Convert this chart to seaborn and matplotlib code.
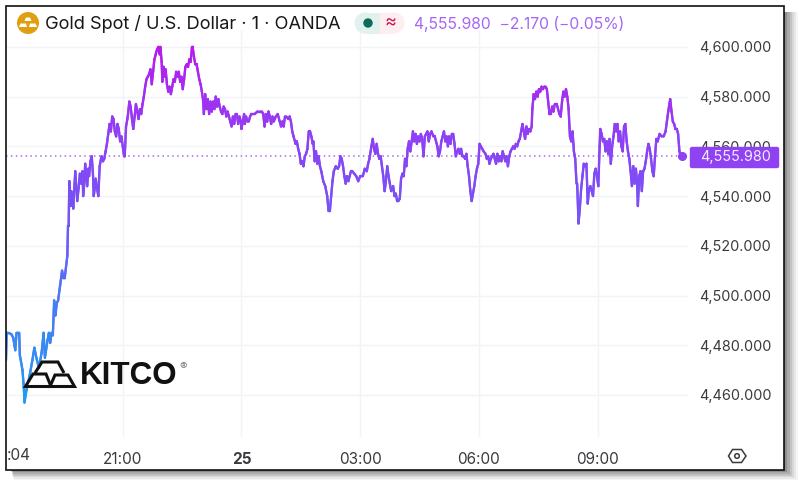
import numpy as np
import seaborn as sns
import matplotlib
matplotlib.use("Agg")
import matplotlib.pyplot as plt
from matplotlib.collections import LineCollection
from matplotlib.colors import LinearSegmentedColormap
from matplotlib.patches import Rectangle, Circle, Polygon, FancyBboxPatch
from matplotlib.transforms import Affine2D

# (minutes relative to midnight on the 25th, price)
rally = [
    (-357,4474),(-356,4485),(-354,4485),(-349,4484.5),(-346,4483),(-343,4478),(-341,4485),(-337,4485),(-336,4476),
    (-332,4470),(-330,4463),(-329,4457),(-326,4462),(-321,4468),(-317,4474),(-314,4479),(-311,4475),(-307,4471),
    (-303,4477),(-300,4485),(-298,4475),(-294,4482),(-292,4485),(-290,4481),(-288,4485),(-286,4484),(-284,4498),
    (-282,4492),(-280,4497),(-278,4498),(-275,4504),(-272,4510),(-270,4507),(-268,4507),(-264,4516),(-263,4528),
    (-262,4528),(-261,4546),(-259,4536),(-258,4542),(-256,4538),(-255,4535),(-253,4545),(-252,4550),(-250,4542),
    (-249,4538),(-247,4543),(-245,4549),(-243,4545),(-241,4550),(-240,4540),(-238,4546),(-237,4553),(-235,4549),
    (-234,4544),(-232,4551),(-231,4548),(-229,4554),(-227,4556),(-225,4548),(-224,4540),(-222,4544),(-221,4547),
    (-219,4543),(-217,4540),(-215,4552),(-213,4555),(-212,4556),(-210,4554),(-208,4555),(-206,4558),(-204,4561),
    (-202,4565),(-200,4569),(-198,4566),(-196,4572),(-194,4571),(-192,4566),(-190,4564),(-188,4569),(-186,4567),
    (-184,4562),(-182,4564),(-180,4560),(-178,4556),(-177,4556),(-175,4568),(-173,4571),
]
peak = [
    (-172,4573),(-170,4578),(-168,4576),(-166,4571),(-164,4567),(-162,4572),(-160,4577),(-158,4574),(-156,4571),
    (-154,4575),(-152,4573),(-150,4577),(-148,4580),(-146,4584),(-144,4587),(-142,4588),(-140,4589),(-138,4591),
    (-136,4585),(-134,4590),(-132,4595),(-130,4597),(-128,4599),(-126,4600),(-124,4597),(-123,4600),(-121,4594),
    (-120,4586),(-118,4592),(-116,4588),(-115,4591),(-113,4585),(-111,4582),(-109,4584),(-107,4581),(-105,4584),
    (-103,4587),(-101,4586),(-99,4590),(-97,4588),(-95,4590),(-93,4586),(-91,4588),(-89,4583),(-87,4587),(-85,4592),
    (-83,4593),(-81,4592),(-79,4595),(-77,4594),(-75,4600),(-74,4600),(-72,4596),(-70,4593),(-68,4593),(-66,4590),
    (-64,4587),(-62,4585),(-60,4582),(-58,4578),(-57,4573),
]
plateau = [
    (-55,4581),(-53,4575),(-51,4579),(-49,4573),(-47,4578),(-45,4574),(-43,4578),(-41,4575),(-39,4580),(-37,4576),
    (-35,4579),(-33,4576),(-31,4574),(-29,4573),(-27,4576),(-25,4575),(-23,4572),(-21,4574),(-19,4572),(-17,4570),
    (-15,4568),(-13,4572),(-11,4569),(-9,4573),(-7,4573),(-5,4569),(-3,4572),(-1,4570),(0,4567),(2,4570),(4,4573),
    (5,4569),(7,4572),(9,4570),(11,4570),(13,4572),(15,4573),(17,4573),(20,4573),(24,4574),(28,4574),(31,4574),
    (33,4573),(35,4568),(37,4573),(39,4570),(41,4574),(43,4572),(45,4569),(47,4572),(49,4570),(52,4572),(55,4573),
    (58,4570),(60,4568),(62,4570),(64,4568),(66,4572),(68,4572),(71,4571),(73,4572),(75,4570),(77,4566),(79,4564),
    (82,4561),(84,4562),(86,4559),(88,4557),
]
slide = [
    (90,4553),(92,4554),(94,4552),(96,4556),(98,4557),(100,4559),(102,4566),(104,4566),(106,4564),(108,4561),(109,4562),
    (111,4554),(113,4558),(115,4553),(117,4556),(119,4552),(121,4550),(124,4546),(127,4544),(130,4540),(132,4534),
    (134,4534),(136,4540),(138,4546),(140,4550),(143,4552),(146,4551),(148,4552),(150,4556),(152,4555),(154,4552),
    (156,4548),(158,4545),(160,4548),(162,4546),(164,4548),(166,4550),(168,4550),(171,4549),(174,4548),(177,4546),
    (180,4548),(184,4548),(187,4551),(190,4550),(192,4553),(194,4555),(197,4560),(199,4563),(201,4559),(203,4557),
    (205,4561),(207,4557),(209,4555),(211,4556),(213,4552),(215,4548),(217,4542),(219,4546),(221,4552),(223,4548),
    (225,4545),(227,4542),(230,4544),(232,4540),(234,4541),(236,4538),(238,4538),
]
midday = [
    (240,4539),(242,4547),(244,4549),(246,4548),(248,4555),(250,4552),(252,4559),(254,4562),(256,4558),(258,4562),
    (260,4566),(262,4562),(264,4565),(266,4561),(268,4564),(270,4562),(272,4565),(274,4563),(276,4556),(278,4564),
    (280,4565),(282,4566),(284,4562),(286,4565),(288,4566),(291,4564),(293,4564),(295,4562),(297,4560),(299,4556),
    (301,4558),(303,4562),(305,4564),(307,4566),(309,4562),(311,4564),(313,4560),(315,4564),(317,4561),(319,4565),
    (321,4565),(323,4561),(325,4556),(327,4558),(329,4559),(331,4557),(333,4559),(335,4556),(337,4556),(339,4555),
    (341,4557),(343,4552),(345,4548),(347,4542),(349,4538),(351,4541),(353,4544),(355,4548),(357,4551),(359,4553),
    (361,4561),(363,4560),(365,4559),(367,4558),(370,4557),(372,4555),(374,4556),(376,4553),(378,4555),(380,4556),
    (382,4557),(384,4555),(386,4553),(388,4557),(390,4554),(392,4556),(394,4554),(396,4558),(398,4556),(400,4554),
    (402,4556),(404,4552),(406,4556),(408,4558),(410,4559),(412,4560),(414,4559),(416,4561),(418,4560),(420,4562),
    (422,4563),(424,4566),(426,4569),(428,4566),(430,4563),(432,4568),(434,4565),(436,4567),(438,4566),(440,4568),
]
late = [
    (441,4575),(443,4581),(445,4579),(447,4582),(449,4580),(451,4583),(453,4582),(455,4584),(457,4583),(459,4584),
    (461,4584),(463,4583),(465,4578),(467,4573),(469,4573),(471,4576),(473,4574),(475,4577),(478,4577),(480,4575),
    (482,4573),(484,4572),(486,4578),(488,4582),(490,4580),(492,4583),(494,4580),(496,4575),(498,4564),(500,4562),
    (502,4566),(504,4558),(506,4555),(508,4545),(509,4545),(511,4529),(513,4535),(515,4543),(517,4548),(519,4553),
    (521,4552),(523,4553),(525,4537),(527,4543),(529,4544),(531,4542),(533,4540),(535,4549),(537,4551),(539,4548),
    (541,4544),(543,4560),(544,4567),(546,4565),(548,4562),(550,4563),(552,4558),(554,4562),(556,4557),(558,4563),
    (560,4553),(562,4560),(564,4564),(566,4569),(568,4566),(570,4569),(572,4562),(574,4566),(576,4560),(578,4558),
    (580,4568),(582,4569),(584,4562),(586,4558),(588,4555),(590,4550),(592,4544),(594,4552),(596,4545),(598,4551),
    (600,4545),(601,4536),(603,4548),(605,4550),(607,4542),(609,4550),(611,4551),(613,4554),(615,4558),(617,4561),
    (619,4559),(621,4555),(623,4550),(625,4548),(627,4556),(629,4563),(631,4562),(634,4565),(637,4564),(640,4564),
    (643,4566),(645,4570),(647,4574),(650,4579),(652,4574),(654,4570),(656,4569),(658,4567),(660,4567),(662,4565),
    (664,4558),(666,4556),(668,4555.98),
]
last_price = 4555.98
y_ticks = [4460, 4480, 4500, 4520, 4540, 4560, 4580, 4600]
y_labels = ["4,460.000", "4,480.000", "4,500.000", "4,520.000", "4,540.000", "4,560.000", "4,580.000", "4,600.000"]
x_ticks = [-180, 0, 180, 360, 540]
x_labels = ["21:00", "25", "03:00", "06:00", "09:00"]
title = "Gold Spot / U.S. Dollar · 1 · OANDA"
quote = "4,555.980  \u22122.170 (\u22120.05%)"

sns.set_theme(style="white")
plt.rcParams["font.family"] = ["Inter", "DejaVu Sans"]

W, H = 800, 488
fig = plt.figure(figsize=(W / 100, H / 100), dpi=100, facecolor="white")
T = Affine2D().scale(1 / W, -1 / H).translate(0, 1) + fig.transFigure

L, R, TOP, BOT = 6, 688, 30, 437
ax = fig.add_axes([L / W, 1 - BOT / H, (R - L) / W, (BOT - TOP) / H], facecolor="none")

series = np.array(rally + peak + plateau + slide + midday + late, float)
t, p = series[:, 0], series[:, 1]
sns.lineplot(x=t, y=p, ax=ax, estimator=None, sort=False, color="#8a45f5", lw=1.5, zorder=3)

cmap = LinearSegmentedColormap.from_list("grad", ["#1c9ff0", "#3f82f2", "#6f58f6", "#8f40f4", "#bc18ee"])
segs = np.stack([series[:-1], series[1:]], axis=1)
lc = LineCollection(segs, cmap=cmap, norm=plt.Normalize(4457, 4600), linewidths=1.7, capstyle="round", zorder=4)
lc.set_array((p[:-1] + p[1:]) / 2)
ax.add_collection(lc)

ax.set_xlim(-357, 677)
ax.set_ylim(4443.1, 4606.8)
ax.axhline(last_price, color="#a56cf3", lw=1.1, ls=(0, (1, 2.2)), zorder=2)
ax.plot([t[-1]], [last_price], "o", ms=5.5, color="#8e42f2", zorder=5)
ax.grid(True, color="#f2f3f6", lw=1)
ax.set_axisbelow(True)
ax.set_xlabel(""); ax.set_ylabel("")
for s in ax.spines.values():
    s.set_visible(False)

ax.yaxis.tick_right()
ax.set_yticks(y_ticks, y_labels)
ax.set_xticks(x_ticks, x_labels)
ax.tick_params(axis="y", length=0, pad=8, labelsize=10.4, labelcolor="#3a3a3f")
ax.tick_params(axis="x", length=0, pad=11, labelsize=11, labelcolor="#3a3a3f")
for lab in ax.get_xticklabels():
    if lab.get_text() == "25":
        lab.set_fontweight("bold")
fig.text(6.5, 456, ":04", transform=T, ha="left", va="center", fontsize=11, color="#3a3a3f")

# last price tag
fig.add_artist(FancyBboxPatch((690.5, 147.5), 88, 20, boxstyle="round,pad=0,rounding_size=1.5", transform=T,
                              fc="#8e42f2", ec="#8e42f2", lw=1, zorder=5))
fig.text(735.5, 156.5, "4,555.980", transform=T, ha="center", va="center", fontsize=10.4, color="#f3ecff", zorder=6)

# header
fig.add_artist(Circle((28, 23), 11, transform=T, fc="#e09f10", ec="none", zorder=3))
for xy in ([(24.5, 21), (26, 17.5), (30, 17.5), (31.5, 21)],
           [(19, 27), (20.5, 23.5), (26, 23.5), (27, 27)],
           [(29, 27), (30, 23.5), (35.5, 23.5), (37, 27)]):
    fig.add_artist(Polygon(xy, transform=T, fc="white", ec="none", zorder=4))
fig.text(45, 24, title, transform=T, ha="left", va="center", fontsize=13.1, color="#18181b", zorder=4)
fig.add_artist(Rectangle((365, 12.5), 15, 21, transform=T, fc="#e2f1ed", ec="none", zorder=3))
fig.add_artist(Circle((365, 23), 10.5, transform=T, fc="#e2f1ed", ec="none", zorder=3))
fig.add_artist(Rectangle((380, 12.5), 14, 21, transform=T, fc="#fdeef2", ec="none", zorder=3))
fig.add_artist(Circle((394, 23), 10.5, transform=T, fc="#fdeef2", ec="none", zorder=3))
fig.add_artist(Circle((368, 23), 4.7, transform=T, fc="#0d6b5c", ec="none", zorder=4))
fig.text(390.5, 23, "\u2248", transform=T, ha="center", va="center", fontsize=13, color="#c8184f", zorder=4)
fig.text(414, 24, quote, transform=T, ha="left", va="center", fontsize=11.3, color="#a566f5", zorder=4)

# KITCO logo
fig.add_artist(Polygon([(35, 373), (42, 362), (58, 362), (64, 373)], closed=False, transform=T,
                       fc="none", ec="#111111", lw=2.2, zorder=7))
for xy in ([(25.5, 386.5), (33, 374), (46, 374), (51, 386.5)],
           [(50, 386.5), (55, 375), (68, 375), (74.5, 386.5)]):
    fig.add_artist(Polygon(xy, closed=True, transform=T, fc="#ffffff", ec="#111111", lw=2.2, zorder=7))
fig.text(79.5, 376.5, "KITCO", transform=T, ha="left", va="center", fontsize=22.6, fontweight="bold",
         family="Liberation Sans", color="#111111", zorder=7)
fig.text(183, 367, "\u00ae", transform=T, ha="center", va="center", fontsize=8, color="#777777", zorder=7)

# settings hexagon
hx = [(728.5, 456), (732.5, 449.5), (741.5, 449.5), (746, 456), (741.5, 462.5), (732.5, 462.5)]
fig.add_artist(Polygon(hx, closed=True, transform=T, fc="none", ec="#3a3a3f", lw=1.1, zorder=5))
fig.add_artist(Circle((737, 456), 2.3, transform=T, fc="none", ec="#3a3a3f", lw=1.1, zorder=5))

# screenshot frame and its drop shadow
for off, a in zip(range(13, 0, -2), [.04, .05, .07, .09, .12, .16, .25]):
    fig.add_artist(Rectangle((10 + off * .3, 12), 774 + off * .8, 458 + off * .8, transform=T, fc="black",
                             ec="none", alpha=a, zorder=-2))
fig.add_artist(Rectangle((5.5, 5.5), 778.5, 464.5, transform=T, fc="white", ec="none", zorder=-1))
fig.add_artist(Rectangle((5.5, 5.5), 778.5, 464.5, transform=T, fc="none", ec="#111111", lw=1.2, zorder=8))

fig.savefig("out.png", dpi=100)
